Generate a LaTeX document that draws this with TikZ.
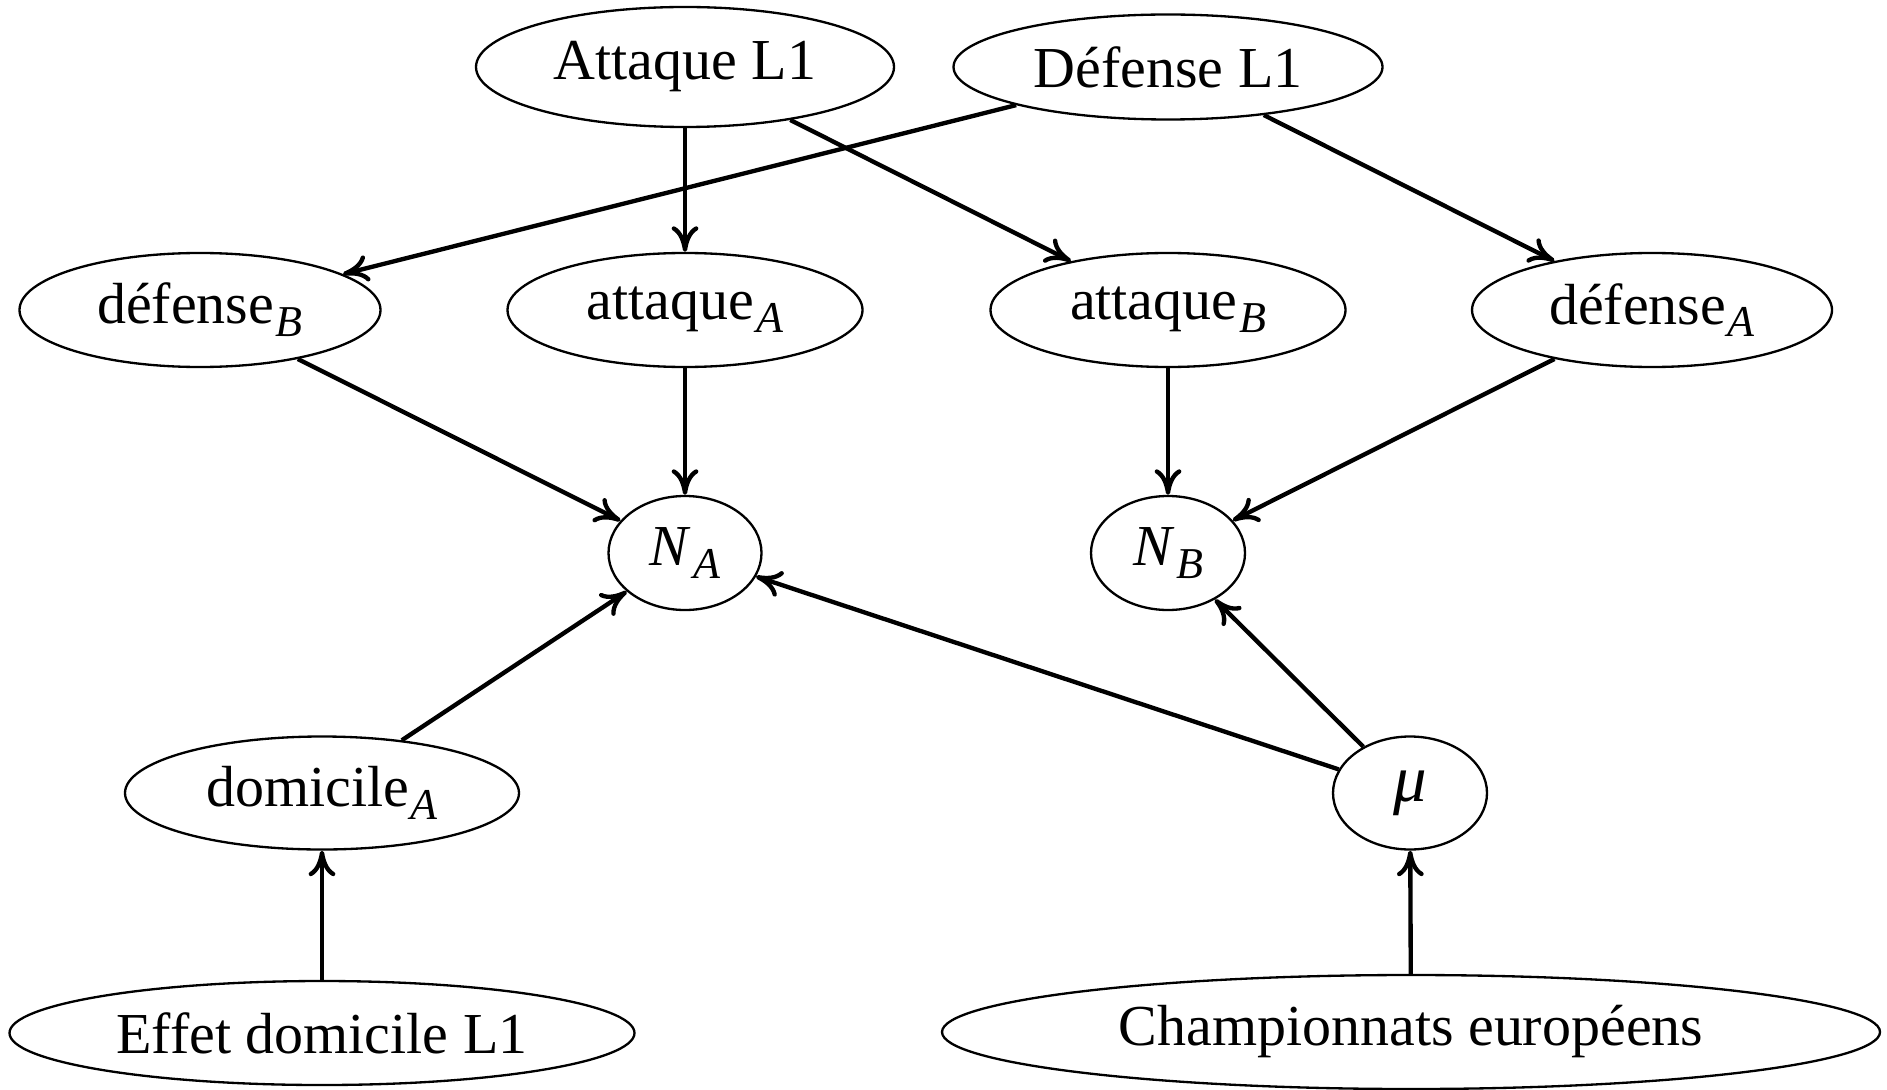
\documentclass[tikz,border=0pt]{standalone}
\usepackage{fontspec}
\setmainfont{Liberation Serif}
\usetikzlibrary{shapes.geometric,arrows.meta}
\newlength\px
\setlength\px{0.1725pt}
\newcommand\sub[1]{\kern0.3pt\raisebox{-2.2pt}{\fontsize{7.6}{8}\selectfont\textit{#1}}}
\tikzset{
  nd/.style={draw, ellipse, inner sep=0pt, line width=0.4pt},
  arr/.style={-{Computer Modern Rightarrow[length=4.4pt,width=4.6pt]}, line width=0.75pt},
}
\begin{document}
\begin{tikzpicture}[x=\px, y=-\px, font=\fontsize{10}{12}\selectfont]
\useasboundingbox (0,0) rectangle (1887,1089);
\node[nd, minimum width=418\px, minimum height=120\px] (AL1) at (685,67) {Attaque L1};
\node[nd, minimum width=429\px, minimum height=105\px] (DL1) at (1168,67) {Défense L1};
\node[nd, minimum width=361\px, minimum height=114\px] (dB) at (200,310) {défense\sub{B}};
\node[nd, minimum width=355\px, minimum height=114\px] (aA) at (685,310) {attaque\sub{A}};
\node[nd, minimum width=355\px, minimum height=114\px] (aB) at (1168,310) {attaque\sub{B}};
\node[nd, minimum width=360\px, minimum height=114\px] (dA) at (1652,310) {défense\sub{A}};
\node[nd, minimum width=153\px, minimum height=114\px] (NA) at (685,553) {\textit{N}\sub{A}};
\node[nd, minimum width=154\px, minimum height=114\px] (NB) at (1168,553) {\textit{N}\sub{B}};
\node[nd, minimum width=394\px, minimum height=113\px] (dom) at (322,793) {domicile\sub{A}};
\node[nd, minimum width=154\px, minimum height=113\px] (mu) at (1410,793) {\fontsize{11.5}{12}\selectfont\textit{μ}};
\node[nd, minimum width=625\px, minimum height=104\px] (EL1) at (322,1033) {Effet domicile L1};
\node[nd, minimum width=938\px, minimum height=114\px] (CE) at (1411,1032) {Championnats européens};
\draw[arr] (AL1) -- (aA);
\draw[arr] (AL1) -- (aB);
\draw[arr] (DL1) -- (dB);
\draw[arr] (DL1) -- (dA);
\draw[arr] (dB) -- (NA);
\draw[arr] (aA) -- (NA);
\draw[arr] (aB) -- (NB);
\draw[arr] (dA) -- (NB);
\draw[arr] (dom) -- (NA);
\draw[arr] (mu) -- (NA);
\draw[arr] (mu) -- (NB);
\draw[arr] (EL1) -- (dom);
\draw[arr] (CE) -- (mu);
\end{tikzpicture}
\end{document}
